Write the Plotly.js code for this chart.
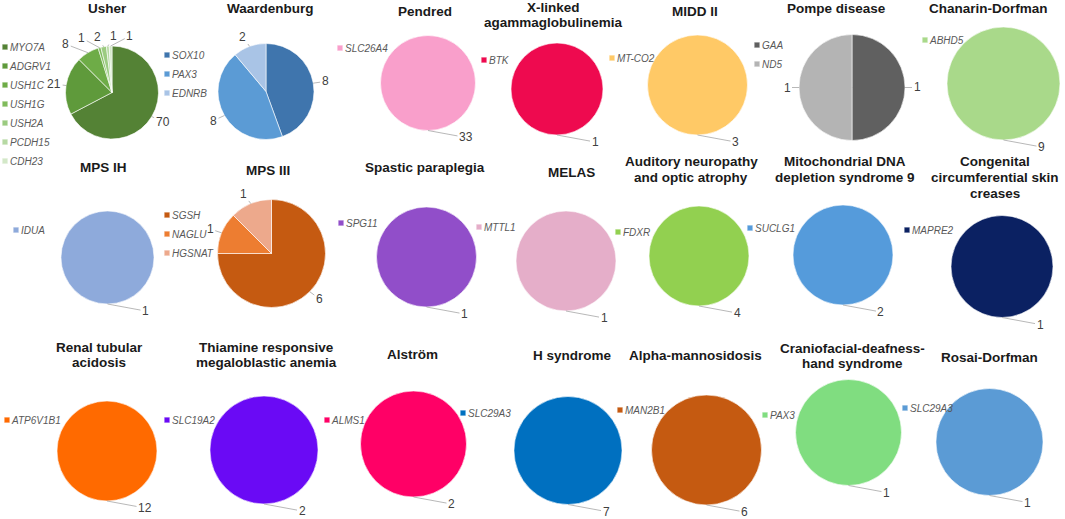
<!DOCTYPE html>
<html>
<head>
<meta charset="utf-8">
<script src="https://cdn.plot.ly/plotly-3.0.1.min.js"></script>
<style>
html,body{margin:0;padding:0;background:#ffffff;}
#chart{width:1065px;height:519px;}
path.legendpie{transform:translate(35px,0px) scale(0.45);}
</style>
</head>
<body>
<div id="chart"></div>
<script>
// ---------- DATA ----------
const diseaseTitles = [
  "Usher", "Waardenburg", "Pendred", "X-linked<br>agammaglobulinemia", "MIDD II", "Pompe disease", "Chanarin-Dorfman",
  "MPS IH", "MPS III", "Spastic paraplegia", "MELAS", "Auditory neuropathy<br>and optic atrophy",
  "Mitochondrial DNA<br>depletion syndrome 9", "Congenital<br>circumferential skin<br>creases",
  "Renal tubular<br>acidosis", "Thiamine responsive<br>megaloblastic anemia", "Alström", "H syndrome",
  "Alpha-mannosidosis", "Craniofacial-deafness-<br>hand syndrome", "Rosai-Dorfman"
];
const geneLists = [
  ["MYO7A", "ADGRV1", "USH1C", "USH1G", "USH2A", "PCDH15", "CDH23"],
  ["SOX10", "PAX3", "EDNRB"],
  ["SLC26A4"], ["BTK"], ["MT-CO2"], ["GAA", "ND5"], ["ABHD5"],
  ["IDUA"], ["SGSH", "NAGLU", "HGSNAT"], ["SPG11"], ["MTTL1"], ["FDXR"], ["SUCLG1"], ["MAPRE2"],
  ["ATP6V1B1"], ["SLC19A2"], ["ALMS1"], ["SLC29A3"], ["MAN2B1"], ["PAX3"], ["SLC29A3"]
];
const caseCounts = [
  [70, 21, 8, 1, 2, 1, 1],
  [8, 8, 2],
  [33], [1], [3], [1, 1], [9],
  [1], [6, 1, 1], [1], [1], [4], [2], [1],
  [12], [2], [2], [7], [6], [1], [1]
];
const sliceColors = [
  ["#548235", "#5f9a3b", "#6eac47", "#80bb5c", "#9bcb80", "#b6d9a3", "#d3e8c8"],
  ["#3f75ad", "#5b9bd5", "#a9c4e6"],
  ["#f99fcb"], ["#ee0a4f"], ["#ffc966"], ["#606060", "#b4b4b4"], ["#a9d98a"],
  ["#8eaadb"], ["#c55a11", "#ed7d31", "#eda98c"], ["#914ec9"], ["#e5aec9"], ["#92d050"], ["#559bdb"], ["#0b2162"],
  ["#ff6a00"], ["#6a0af5"], ["#ff0066"], ["#0070c0"], ["#c55a11"], ["#80dd80"], ["#5b9bd5"]
];

// ---------- LAYOUT GEOMETRY (pixels) ----------
const W = 1065, H = 519;
const pieFrames = [ // centre x, centre y, radius
  [112, 92.5, 46.5], [266, 91.5, 48], [428, 83, 47.5], [557, 89, 46], [697.5, 85, 50], [852, 87.5, 53], [1003.5, 83.5, 56.5],
  [107.5, 257.5, 46.5], [271.5, 253.5, 54], [426.5, 257, 50], [566, 261, 50], [699, 256, 50], [843, 255, 50], [1002, 266.5, 51],
  [107, 451, 50], [264, 450, 54], [413.5, 444, 53], [568, 450.5, 54], [706.5, 450, 55], [848.5, 432.5, 53], [989.5, 442, 53.5]
];
const titleSpots = [ // centre x, first line centre y
  [107, 8], [270, 8], [425, 12], [553, 7], [695, 12], [836, 8], [988, 8],
  [103, 167], [268, 170], [425, 167], [571, 173], [691, 162], [845, 162], [995, 162],
  [99, 347], [266, 347], [412, 354], [572, 355], [695, 355], [852, 348], [989, 357]
];
const titleLineStep = 15.5;
const legendSpots = [ // text start x, first item centre y
  [10, 47], [172, 55], [345, 48], [489, 60], [617, 58], [762, 45], [930, 40],
  [21, 230], [172, 215], [346, 223], [484, 227], [623, 232], [755, 228], [912, 230],
  [12, 420], [172, 420], [332, 420], [468, 413], [625, 410], [770, 415], [910, 408]
];

const FONT = "Liberation Sans, Arial, sans-serif";
const traces = [];
const annotations = [];
const layout = {
  width: W, height: H,
  margin: {l: 0, r: 0, t: 0, b: 0, autoexpand: false},
  paper_bgcolor: "#ffffff", plot_bgcolor: "#ffffff",
  showlegend: true,
  annotations: annotations
};

function legendName(k) { return k === 0 ? "legend" : "legend" + (k + 1); }

function labelSpots(k) {
  const [cx, cy, r] = pieFrames[k];
  const vals = caseCounts[k];
  const total = vals.reduce((a, b) => a + b, 0);
  let cum = 0;
  const out = [];
  vals.forEach(v => {
    const mid = (cum + v / 2) / total * 2 * Math.PI;
    cum += v;
    const ux = Math.sin(mid), uy = -Math.cos(mid);
    const ex = cx + r * ux, ey = cy + r * uy;
    let lx, ly;
    if (v === total) { lx = ex + 38; ly = ey + 7; }
    else {
      const s = Math.abs(ux) < 0.05 ? 1 : Math.sign(ux);
      lx = ex + ux * 8 + s * 4; ly = ey + uy * 10;
    }
    out.push({v, ex, ey, lx, ly});
  });
  for (let it = 0; it < 300; it++) {
    for (let a = 0; a < out.length; a++) {
      for (let b = a + 1; b < out.length; b++) {
        const A = out[a], B = out[b];
        if (Math.abs(A.ly - B.ly) < 12) {
          const dx = B.lx - A.lx;
          if (Math.abs(dx) < 16) {
            const push = (16 - Math.abs(dx)) / 4;
            const dir = dx >= 0 ? 1 : -1;
            A.lx -= push * dir; B.lx += push * dir;
          }
        }
      }
    }
  }
  return out;
}

diseaseTitles.forEach((title, k) => {
  const [cx, cy, r] = pieFrames[k];
  const lg = legendName(k);
  traces.push({
    type: "pie",
    name: title.replace(/<br>/g, " "),
    labels: geneLists[k],
    values: caseCounts[k],
    marker: {colors: sliceColors[k], line: {color: "#ffffff", width: 0.6}},
    sort: false,
    direction: "clockwise",
    rotation: 0,
    textinfo: "none",
    hoverinfo: "label+value",
    domain: {x: [(cx - r) / W, (cx + r) / W], y: [1 - (cy + r) / H, 1 - (cy - r) / H]},
    legend: lg,
    legendgroup: "chart" + k,
    showlegend: true
  });
  const [lx, ly] = legendSpots[k];
  layout[lg] = {
    x: (lx - 40) / W, y: 1 - (ly - 14.5) / H,
    xanchor: "left", yanchor: "top",
    bgcolor: "rgba(0,0,0,0)", borderwidth: 0,
    font: {family: FONT, size: 10, color: "#595959", style: "italic"},
    traceorder: "normal", tracegroupgap: 0
  };
  const [tx, ty] = titleSpots[k];
  title.split("<br>").forEach((line, i) => {
    annotations.push({
      xref: "paper", yref: "paper", x: tx / W, y: 1 - (ty + i * titleLineStep) / H,
      xanchor: "center", yanchor: "middle", showarrow: false, align: "center",
      text: line,
      font: {family: FONT, size: 13.5, color: "#1a1a1a", weight: "bold"}
    });
  });
  labelSpots(k).forEach(p => {
    annotations.push({
      xref: "paper", yref: "paper", x: p.ex / W, y: 1 - p.ey / H,
      ax: p.lx - p.ex, ay: p.ly - p.ey,
      showarrow: true, arrowhead: 0, arrowwidth: 0.8, arrowcolor: "#a6a6a6",
      standoff: 0, startstandoff: 0,
      text: String(p.v),
      font: {family: FONT, size: 12, color: "#404040"}
    });
  });
});

Plotly.newPlot("chart", traces, layout, {displayModeBar: false, staticPlot: true});
</script>
</body>
</html>
